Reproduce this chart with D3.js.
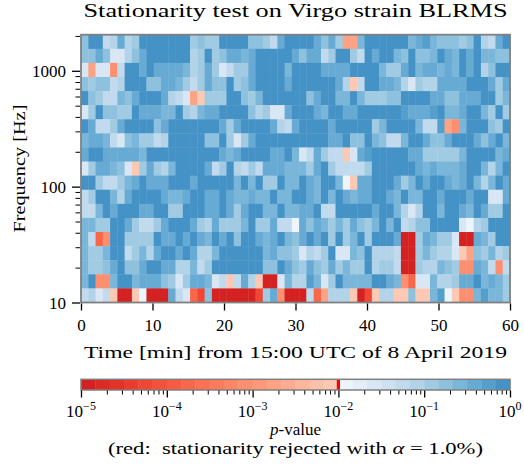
<!DOCTYPE html>
<html><head><meta charset="utf-8">
<script src="https://cdn.jsdelivr.net/npm/d3@7"></script>
<style>body{margin:0;background:#fff}svg{display:block}text{font-family:"Liberation Serif","Times New Roman",serif;fill:#000}</style>
</head><body>
<svg id="c" width="524" height="465"></svg>
<script>
// ---- data ----
// frequency band edges (Hz), 19 bands, log spaced 10 .. 2048
const bandEdgesHz = [10, 13.233, 17.511, 23.173, 30.665, 40.579, 53.698, 71.059, 94.032, 124.43,
  164.66, 217.90, 288.35, 381.57, 504.93, 668.17, 884.19, 1170.05, 1548.33, 2048.9];
// time bins: 59 bins spanning 60 minutes
const nTimeBins = 59;
const timeSpanMin = 60;
// p-value codes per band, top row = highest band; each char is a colour level of log10(p)
const pCodeRows = [
  "59923734999999945449" + "9995542799997574bb69" + "9999967865554593279",
  "55751135799999934945" + "77679999975772499429" + "7996595569769796655",
  "1b11c299797777634741" + "24479999699997777999" + "9644796776769793599",
  "54552399955776424755" + "94579999799999973a29" + "9776314337777999747",
  "954226579997321ba444" + "99546999999579966964" + "4455999977557779946",
  "14955449777669436779" + "99953411799976997799" + "9999877789667996494",
  "97224799995799999997" + "47999973279999799999" + "4699996228bc6999549",
  "67762156442399999559" + "41479999999999779559" + "6522699755799975796",
  "79977777699999999997" + "6799997796127422a178" + "9999977444446999967",
  "1477651a474369999724" + "93242777666479422224" + "9999997676667996369",
  "99422467977799979999" + "96969449669769960a77" + "9997469799767963697",
  "24996379999766799779" + "76676696699769697677" + "9976966997999799117",
  "22697999779944999779" + "74799669667792299999" + "7996313996997697449",
  "66449974224799974374" + "44694472207576464754" + "6969235599991034999",
  "62dc9944449779797697" + "95997679657979494694" + "9997ff476441ff76499",
  "64469924637997973369" + "99999675541324911659" + "3332ff464331ab54634",
  "64457955799773362499" + "99999559754754746449" + "3442ff433654cc762c2",
  "69cc6996777541477612" + "a273aff1633861496666" + "9976cd1163347796764",
  "2312affa0fff721de5ff" + "ffffe47cfff2db333afe" + "a33aa5aa680acc68664"
];
// code -> colour level (0..29, 6 levels per decade from 1e-5 to 1)
const codeLevel = {"f":0,"e":4,"d":7,"c":11,"b":13,"a":17,"0":18,"1":20,"2":22,"3":23,"4":24,"5":25,"6":26,"7":27,"8":28,"9":29};
const xTicks = [0, 10, 20, 30, 40, 50, 60];
const yTicks = [10, 100, 1000];
const yMinor = [20,30,40,50,60,70,80,90,200,300,400,500,600,700,800,900,2000];
const cbDecades = [-5, -4, -3, -2, -1, 0];
const alphaLevel = 0.01;
const titleText = "Stationarity test on Virgo strain BLRMS";
const xLabel = "Time [min] from 15:00 UTC of 8 April 2019";
const yLabel = "Frequency [Hz]";

// ---- derived values ----
const levelsPerDecade = 6;
const cells = [];
pCodeRows.forEach((row, r) => {
  const band = bandEdgesHz.length - 2 - r;
  for (let c = 0; c < nTimeBins; c++) {
    const k = codeLevel[row[c]];
    cells.push({band, col: c, p: Math.pow(10, (k + 0.5) / levelsPerDecade - 5)});
  }
});

function levelOf(p) {
  return Math.max(0, Math.min(29, Math.floor((Math.log10(p) + 5) * levelsPerDecade)));
}
function colorOf(p) {
  const k = levelOf(p);
  if (k < 18) return d3.interpolateReds(0.72 - k / 17 * 0.52);
  return d3.interpolateBlues(0.05 + (k - 18) / 11 * 0.57);
}

// ---- layout ----
const svg = d3.select("#c");
const L = 81, R = 510, T = 34.7, B = 302.5;
const x = d3.scaleLinear().domain([0, timeSpanMin]).range([L, R]);
const y = d3.scaleLog().domain([bandEdgesHz[0], bandEdgesHz[bandEdgesHz.length - 1]]).range([B, T]);
const binW = timeSpanMin / nTimeBins;

svg.append("g").selectAll("rect").data(cells).join("rect")
  .attr("x", d => x(d.col * binW))
  .attr("width", d => x((d.col + 1) * binW) - x(d.col * binW) + 0.4)
  .attr("y", d => y(bandEdgesHz[d.band + 1]))
  .attr("height", d => y(bandEdgesHz[d.band]) - y(bandEdgesHz[d.band + 1]) + 0.4)
  .attr("fill", d => colorOf(d.p));

// spines
svg.append("rect").attr("x", L).attr("y", T).attr("width", R - L).attr("height", B - T)
  .attr("fill", "none").attr("stroke", "#808080").attr("stroke-width", 1.8);

// x axis
const gx = svg.append("g").attr("transform", `translate(0,${B + 1})`)
  .call(d3.axisBottom(x).tickValues(xTicks).tickSize(7).tickSizeOuter(0).tickFormat(d3.format("d")));
gx.select(".domain").remove();
gx.selectAll(".tick line").attr("stroke", "#000").attr("stroke-width", 1.3);
gx.selectAll(".tick text").attr("font-size", 17).attr("font-family", "Liberation Serif")
  .attr("y", 0).attr("dy", 27);

// y axis
const gy = svg.append("g").attr("transform", `translate(${L - 1},0)`)
  .call(d3.axisLeft(y).tickValues(yTicks).tickSize(8).tickSizeOuter(0).tickFormat(d3.format("d")));
gy.select(".domain").remove();
gy.selectAll(".tick line").attr("stroke", "#000").attr("stroke-width", 1.3);
gy.selectAll(".tick text").attr("font-size", 17).attr("font-family", "Liberation Serif")
  .attr("x", -14).attr("dy", "0.34em");
const gym = svg.append("g").attr("transform", `translate(${L - 1},0)`)
  .call(d3.axisLeft(y).tickValues(yMinor).tickSize(4.5).tickSizeOuter(0).tickFormat(""));
gym.select(".domain").remove();
gym.selectAll(".tick line").attr("stroke", "#000").attr("stroke-width", 1);

// title & labels
svg.append("text").attr("x", (L + R) / 2).attr("y", 17).attr("text-anchor", "middle")
  .attr("font-size", 18).attr("textLength", 424).attr("lengthAdjust", "spacingAndGlyphs").text(titleText);
svg.append("text").attr("x", (L + R) / 2).attr("y", 358).attr("text-anchor", "middle")
  .attr("font-size", 17).attr("textLength", 423).attr("lengthAdjust", "spacingAndGlyphs").text(xLabel);
svg.append("text").attr("transform", `translate(25,${(T + B) / 2}) rotate(-90)`).attr("text-anchor", "middle")
  .attr("font-size", 17).attr("textLength", 128).attr("lengthAdjust", "spacingAndGlyphs").text(yLabel);

// ---- colorbar ----
const cbT = 379.3, cbB = 390;
const cb = d3.scaleLog().domain([1e-5, 1]).range([L, R]);
const cbLevels = d3.range(30);
svg.append("g").selectAll("rect").data(cbLevels).join("rect")
  .attr("x", k => cb(Math.pow(10, -5 + k / levelsPerDecade)))
  .attr("width", k => cb(Math.pow(10, -5 + (k + 1) / levelsPerDecade)) - cb(Math.pow(10, -5 + k / levelsPerDecade)) + 0.4)
  .attr("y", cbT).attr("height", cbB - cbT)
  .attr("fill", k => colorOf(Math.pow(10, -5 + (k + 0.5) / levelsPerDecade)));
svg.append("rect").attr("x", cb(alphaLevel) - 1.6).attr("width", 3.2).attr("y", cbT).attr("height", cbB - cbT)
  .attr("fill", "#ff0000");
svg.append("rect").attr("x", L).attr("y", cbT).attr("width", R - L).attr("height", cbB - cbT)
  .attr("fill", "none").attr("stroke", "#808080").attr("stroke-width", 1.5);

const cbMajor = cbDecades.map(e => Math.pow(10, e));
const cbMinor = [];
cbDecades.slice(0, -1).forEach(e => { for (let m = 2; m <= 9; m++) cbMinor.push(m * Math.pow(10, e)); });
const gcb = svg.append("g").attr("transform", `translate(0,${cbB + 0.5})`)
  .call(d3.axisBottom(cb).tickValues(cbMajor).tickSize(7).tickSizeOuter(0).tickFormat(""));
gcb.select(".domain").remove();
gcb.selectAll(".tick line").attr("stroke", "#000").attr("stroke-width", 1.3);
const gcbm = svg.append("g").attr("transform", `translate(0,${cbB + 0.5})`)
  .call(d3.axisBottom(cb).tickValues(cbMinor).tickSize(4).tickSizeOuter(0).tickFormat(""));
gcbm.select(".domain").remove();
gcbm.selectAll(".tick line").attr("stroke", "#000").attr("stroke-width", 1);

const cbLab = svg.append("g").selectAll("text").data(cbDecades).join("text")
  .attr("x", e => cb(Math.pow(10, e))).attr("y", 417).attr("text-anchor", "middle").attr("font-size", 17);
cbLab.append("tspan").text("10");
cbLab.append("tspan").attr("font-size", 12).attr("dy", -7).text(e => e < 0 ? "\u2212" + (-e) : String(e));

const pv = svg.append("text").attr("x", (L + R) / 2).attr("y", 435).attr("text-anchor", "middle").attr("font-size", 17);
pv.append("tspan").attr("font-style", "italic").text("p");
pv.append("tspan").text("-value");
const rl = svg.append("text").attr("x", (L + R) / 2).attr("y", 454).attr("text-anchor", "middle")
  .attr("font-size", 17).attr("textLength", 375).attr("lengthAdjust", "spacingAndGlyphs");
rl.append("tspan").text("(red:\u00a0 stationarity rejected with ");
rl.append("tspan").attr("font-style", "italic").text("\u03b1");
rl.append("tspan").text(" = " + (alphaLevel * 100).toFixed(1) + "%)");
</script>
</body></html>
